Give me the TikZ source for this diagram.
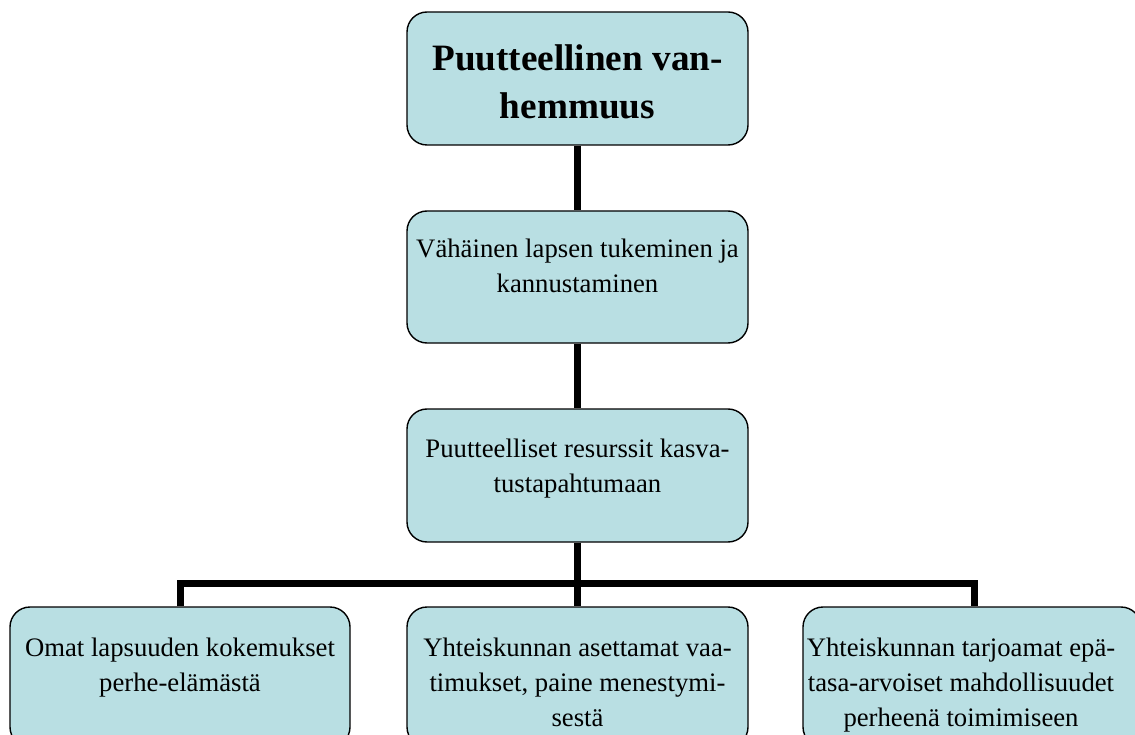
\documentclass[tikz,border=0pt]{standalone}
\usepackage{fontspec}
\setmainfont{Liberation Serif}
\definecolor{boxfill}{RGB}{185,223,227}
\newcommand{\lns}[1]{\begin{tabular}[t]{@{}c@{}}#1\end{tabular}}
\tikzset{
  box/.style={draw=black, line width=1.4pt, fill=boxfill, rounded corners=20pt, inner sep=0pt},
  txt/.style={anchor=base, inner sep=0pt, font=\fontsize{26.7}{35}\selectfont},
  bigtxt/.style={anchor=base, inner sep=0pt, font=\fontsize{37.2}{48}\selectfont\bfseries},
  conn/.style={line width=6.5pt, line cap=butt}
}
\begin{document}
\begin{tikzpicture}[x=1pt,y=-1pt]
\useasboundingbox (0,0) rectangle (1135,735);
\clip (0,0) rectangle (1135,735);
\coordinate (hb) at (577.5,583.5);
\coordinate (hl) at (180.5,583.5);
\coordinate (hr) at (974.5,583.5);
% boxes
\node[box, minimum width=341pt, minimum height=133pt] (top) at (577.5,78.5) {};
\node[box, minimum width=341pt, minimum height=132pt] (b2) at (577.5,277) {};
\node[box, minimum width=341pt, minimum height=133pt] (b3) at (577.5,475.5) {};
\node[box, minimum width=340pt, minimum height=140pt] (bl) at (180,677) {};
\node[box, minimum width=341pt, minimum height=140pt] (bm) at (577.5,677) {};
\node[box, minimum width=338pt, minimum height=140pt] (br) at (972,677) {};
% connectors
\draw[conn] (top.south) -- (b2.north);
\draw[conn] (b2.south) -- (b3.north);
\draw[conn] (b3.south) -- (hb);
\draw[conn, line join=miter] (hl |- bl.north) -- (hl) -- (hr) -- (hr |- br.north);
\draw[conn] (hb) -- (bm.north);
% texts
\node[bigtxt] (ttop) at (577.5,71) {\lns{Puutteellinen van-\\[0pt]hemmuus}};
\node[txt] (t2) at (577.5,258) {\lns{Vähäinen lapsen tukeminen ja\\kannustaminen}};
\node[txt] (t3) at (577.5,457) {\lns{Puutteelliset resurssit kasva-\\tustapahtumaan}};
\node[txt] (tl) at (180,656) {\lns{Omat lapsuuden kokemukset\\perhe-elämästä}};
\node[txt] (tm) at (577.5,656) {\lns{Yhteiskunnan asettamat vaa-\\timukset, paine menestymi-\\sestä}};
\node[txt] (tr) at (961,656) {\lns{Yhteiskunnan tarjoamat epä-\\tasa-arvoiset mahdollisuudet\\perheenä toimimiseen}};
\end{tikzpicture}
\end{document}
